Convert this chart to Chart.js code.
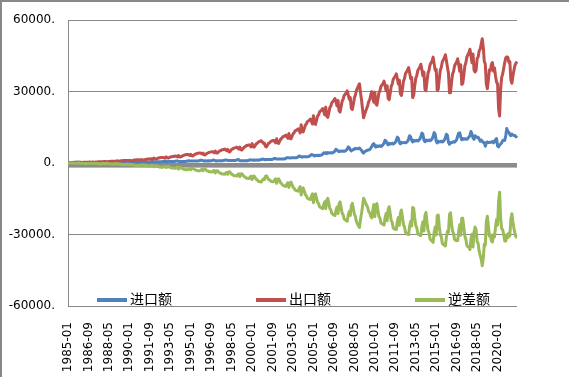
<!DOCTYPE html>
<html>
<head>
<meta charset="utf-8">
<script src="https://cdn.jsdelivr.net/npm/chart.js@4.4.0/dist/chart.umd.min.js"></script>
<style>
  body { margin: 0; background: #fff; }
  #wrap { width: 569px; height: 377px; }
</style>
</head>
<body>
<div id="wrap"><canvas id="tradeChart" width="569" height="377"></canvas></div>
<script>
// monthly values, in thousands, 1985-01 .. 2021-08
var importK = [
  0.3,0.3,0.3,0.3,0.3,0.3,0.3,0.3,0.3,0.4,0.4,0.4,
  0.2,0.2,0.2,0.2,0.2,0.2,0.2,0.2,0.3,0.3,0.3,0.3,
  0.3,0.3,0.3,0.3,0.3,0.3,0.3,0.3,0.3,0.3,0.4,0.3,
  0.4,0.4,0.4,0.4,0.4,0.4,0.4,0.4,0.4,0.5,0.5,0.5,
  0.5,0.4,0.5,0.4,0.4,0.5,0.4,0.5,0.5,0.5,0.6,0.6,
  0.4,0.4,0.4,0.4,0.4,0.4,0.4,0.4,0.4,0.4,0.5,0.5,
  0.5,0.5,0.5,0.5,0.5,0.5,0.5,0.5,0.5,0.6,0.7,0.6,
  0.6,0.5,0.6,0.6,0.6,0.6,0.6,0.6,0.6,0.7,0.8,0.7,
  0.7,0.6,0.7,0.7,0.7,0.7,0.7,0.7,0.7,0.8,0.9,0.9,
  0.7,0.7,0.7,0.7,0.7,0.7,0.7,0.7,0.8,0.9,1.0,0.9,
  0.9,0.9,0.9,0.9,0.9,0.9,0.9,0.9,1.0,1.1,1.2,1.2,
  1.0,0.9,1.0,0.9,0.9,1.0,0.9,1.0,1.0,1.1,1.3,1.2,
  1.0,0.9,1.0,1.0,1.0,1.0,1.0,1.0,1.1,1.2,1.3,1.3,
  1.1,1.1,1.1,1.1,1.1,1.1,1.1,1.1,1.2,1.3,1.5,1.4,
  1.0,1.0,1.0,1.0,1.0,1.0,1.0,1.0,1.1,1.2,1.4,1.3,
  1.3,1.2,1.3,1.2,1.3,1.3,1.2,1.3,1.4,1.5,1.7,1.6,
  1.5,1.4,1.5,1.5,1.5,1.5,1.5,1.5,1.6,1.8,2.0,1.9,
  1.7,1.7,1.7,1.7,1.7,1.7,1.7,1.7,1.8,2.0,2.3,2.2,
  2.2,2.1,2.2,2.2,2.2,2.2,2.2,2.2,2.4,2.6,3.0,2.8,
  2.7,2.5,2.7,2.7,2.7,2.7,2.7,2.7,2.9,3.2,3.6,3.5,
  3.3,3.0,3.3,3.2,3.2,3.3,3.2,3.3,3.4,3.8,4.3,4.1,
  4.4,4.0,4.4,4.2,4.3,4.4,4.2,4.4,4.6,5.1,5.8,5.5,
  5.1,4.8,5.1,5.0,5.0,5.1,5.0,5.1,5.4,5.9,6.8,6.5,
  5.5,5.1,5.6,5.6,5.9,6.2,6.0,6.0,6.2,6.3,5.8,5.4,
  4.5,4.2,4.8,5.0,5.2,5.5,5.5,5.7,6.3,7.0,7.8,8.2,
  7.3,6.7,7.3,7.0,7.1,7.3,7.0,7.3,7.7,8.4,9.6,9.2,
  8.3,7.7,8.3,8.0,8.1,8.3,8.0,8.3,8.7,9.6,10.9,10.4,
  8.7,8.1,8.7,8.5,8.6,8.7,8.5,8.7,9.2,10.1,11.5,11.0,
  9.6,8.9,9.6,9.3,9.4,9.6,9.3,9.6,10.1,11.1,12.6,12.1,
  9.7,9.0,9.7,9.4,9.5,9.7,9.4,9.7,10.2,11.2,12.8,12.2,
  9.2,8.5,9.2,8.9,9.0,9.2,8.9,9.2,9.7,10.7,12.1,11.6,
  8.7,7.9,8.6,8.5,8.8,9.0,8.8,9.3,9.9,11.3,12.6,12.7,
  11.0,9.8,10.3,10.0,10.2,10.1,10.0,10.4,11.0,11.5,13.3,12.2,
  10.6,10.0,11.5,11.0,10.8,10.9,10.1,9.2,9.7,9.1,8.7,8.7,
  7.1,8.4,8.9,8.6,8.6,8.8,8.8,9.1,8.5,9.0,9.8,10.3,
  7.2,6.8,7.6,8.0,8.5,9.4,9.7,9.5,11.5,14.5,13.2,13.0,
  12.0,11.5,12.2,11.8,11.6,11.6,11.0,11.5
];
var exportK = [
  0.3,0.3,0.3,0.3,0.3,0.3,0.4,0.4,0.4,0.4,0.4,0.3,
  0.4,0.3,0.3,0.4,0.4,0.4,0.4,0.4,0.4,0.5,0.4,0.4,
  0.5,0.4,0.4,0.5,0.5,0.5,0.6,0.6,0.6,0.6,0.6,0.5,
  0.7,0.6,0.6,0.6,0.7,0.7,0.8,0.8,0.8,0.8,0.8,0.7,
  1.0,0.8,0.8,0.9,1.0,1.0,1.1,1.1,1.1,1.1,1.1,1.0,
  1.2,1.0,1.0,1.1,1.2,1.3,1.3,1.4,1.4,1.4,1.4,1.3,
  1.5,1.3,1.3,1.4,1.5,1.6,1.7,1.7,1.7,1.8,1.7,1.6,
  2.1,1.8,1.7,1.9,2.1,2.1,2.3,2.3,2.4,2.4,2.3,2.1,
  2.6,2.2,2.1,2.3,2.6,2.6,2.8,2.8,2.9,3.0,2.8,2.6,
  3.2,2.6,2.6,2.8,3.1,3.2,3.4,3.5,3.6,3.6,3.5,3.2,
  3.7,3.1,3.0,3.3,3.7,3.8,4.0,4.1,4.2,4.3,4.1,3.8,
  4.2,3.5,3.4,3.8,4.2,4.3,4.5,4.6,4.7,4.8,4.6,4.3,
  5.1,4.3,4.2,4.6,5.1,5.2,5.5,5.6,5.7,5.9,5.6,5.2,
  5.8,4.9,4.7,5.2,5.8,5.9,6.3,6.4,6.5,6.7,6.3,5.9,
  6.7,5.6,5.5,6.0,6.6,6.8,7.2,7.4,7.5,7.7,7.3,6.8,
  8.2,6.8,6.7,7.3,8.1,8.3,8.8,9.0,9.2,9.4,8.9,8.3,
  8.4,7.0,6.8,7.5,8.3,8.5,9.0,9.2,9.4,9.6,9.1,8.5,
  10.2,8.5,8.3,9.2,10.1,10.4,11.0,11.2,11.4,11.8,11.1,10.4,
  12.4,10.4,10.2,11.2,12.3,12.7,13.5,13.7,14.0,14.4,13.6,12.7,
  16.1,13.4,13.1,14.4,15.9,16.4,17.4,17.7,18.0,18.5,17.5,16.4,
  19.9,16.6,16.2,17.9,19.7,20.3,21.5,21.9,22.3,22.9,21.7,20.3,
  23.5,19.7,19.2,21.1,23.3,24.0,25.4,25.9,26.4,27.1,25.7,24.0,
  26.3,22.0,21.4,23.6,26.0,26.8,28.4,28.9,29.5,30.3,28.7,26.8,
  27.5,23.0,22.5,24.7,27.3,28.6,30.5,31.5,32.5,33.3,29.5,26.5,
  22.5,19.0,20.5,21.8,22.9,24.1,25.9,26.6,28.6,30.0,27.6,25.6,
  29.8,24.9,24.3,26.8,29.5,30.4,32.2,32.8,33.4,34.4,32.5,30.4,
  32.5,27.2,26.6,29.2,32.2,33.2,35.2,35.9,36.5,37.5,35.5,33.2,
  34.8,29.1,28.4,31.2,34.4,35.5,37.6,38.3,39.1,40.1,38.0,35.5,
  36.0,27.5,28.5,32.3,35.6,36.7,38.9,39.6,40.4,41.5,39.3,36.7,
  38.2,31.0,30.4,34.3,37.8,39.0,41.3,42.1,42.9,44.5,41.7,39.0,
  39.4,30.5,31.0,35.4,39.0,40.2,42.6,43.4,44.2,45.5,43.0,40.2,
  37.8,29.5,29.5,34.0,37.4,38.6,40.9,41.7,42.5,43.8,41.3,38.6,
  41.3,33.0,33.5,37.0,40.8,42.1,44.6,45.5,46.3,47.8,45.0,42.1,
  45.8,39.0,38.3,38.9,43.8,44.6,47.1,47.9,50.0,52.2,48.8,42.8,
  41.6,33.2,31.2,34.9,39.2,38.9,41.5,42.2,38.6,40.0,36.6,34.0,
  33.3,22.8,19.8,31.1,36.0,37.4,39.8,42.2,44.2,44.6,44.5,42.4,
  42.6,35.0,33.5,36.5,39.0,41.0,42.0,42.6
];
var balanceK = [
  0,0,0,0,0,0,-0.1,-0.1,-0.1,0,0,0.1,
  -0.2,-0.1,-0.1,-0.2,-0.2,-0.2,-0.2,-0.2,-0.1,-0.2,-0.1,-0.1,
  -0.2,-0.1,-0.1,-0.2,-0.2,-0.2,-0.3,-0.3,-0.3,-0.3,-0.2,-0.2,
  -0.3,-0.2,-0.2,-0.2,-0.3,-0.3,-0.4,-0.4,-0.4,-0.3,-0.3,-0.2,
  -0.5,-0.4,-0.3,-0.5,-0.6,-0.5,-0.7,-0.6,-0.6,-0.6,-0.5,-0.4,
  -0.8,-0.6,-0.6,-0.7,-0.8,-0.9,-0.9,-1.0,-1.0,-1.0,-0.9,-0.8,
  -1.0,-0.8,-0.8,-0.9,-1.0,-1.1,-1.2,-1.2,-1.2,-1.2,-1.0,-1.0,
  -1.5,-1.3,-1.1,-1.3,-1.5,-1.5,-1.7,-1.7,-1.8,-1.7,-1.5,-1.4,
  -1.9,-1.6,-1.4,-1.6,-1.9,-1.9,-2.1,-2.1,-2.2,-2.2,-1.9,-1.7,
  -2.5,-1.9,-1.9,-2.1,-2.4,-2.5,-2.7,-2.8,-2.8,-2.7,-2.5,-2.3,
  -2.8,-2.2,-2.1,-2.4,-2.8,-2.9,-3.1,-3.2,-3.2,-3.2,-2.9,-2.6,
  -3.2,-2.6,-2.4,-2.9,-3.3,-3.3,-3.6,-3.6,-3.7,-3.7,-3.3,-3.1,
  -4.1,-3.4,-3.2,-3.6,-4.1,-4.2,-4.5,-4.6,-4.6,-4.7,-4.3,-3.9,
  -4.7,-3.8,-3.6,-4.1,-4.7,-4.8,-5.2,-5.3,-5.3,-5.4,-4.8,-4.5,
  -5.7,-4.6,-4.5,-5.0,-5.6,-5.8,-6.2,-6.4,-6.4,-6.5,-5.9,-5.5,
  -6.9,-5.6,-5.4,-6.1,-6.8,-7.0,-7.6,-7.7,-7.8,-7.9,-7.2,-6.7,
  -6.9,-5.6,-5.3,-6.0,-6.8,-7.0,-7.5,-7.7,-7.8,-7.8,-7.1,-6.6,
  -8.5,-6.8,-6.6,-7.5,-8.4,-8.7,-9.3,-9.5,-9.6,-9.8,-8.8,-8.2,
  -10.2,-8.3,-8.0,-9.0,-10.1,-10.5,-11.3,-11.5,-11.6,-11.8,-10.6,-9.9,
  -13.4,-10.9,-10.4,-11.7,-13.2,-13.7,-14.7,-15.0,-15.1,-15.3,-13.9,-12.9,
  -16.6,-13.6,-12.9,-14.7,-16.5,-17.0,-18.3,-18.6,-18.9,-19.1,-17.4,-16.2,
  -19.1,-15.7,-14.8,-16.9,-19.0,-19.6,-21.2,-21.5,-21.8,-22.0,-19.9,-18.5,
  -21.2,-17.2,-16.3,-18.6,-21.0,-21.7,-23.4,-23.8,-24.1,-24.4,-21.9,-20.3,
  -22.0,-17.9,-16.9,-19.1,-21.4,-22.4,-24.5,-25.5,-26.3,-27.0,-23.7,-21.1,
  -18.0,-14.8,-15.7,-16.8,-17.7,-18.6,-20.4,-20.9,-22.3,-23.0,-19.8,-17.4,
  -22.5,-18.2,-17.0,-19.8,-22.4,-23.1,-25.2,-25.5,-25.7,-26.0,-22.9,-21.2,
  -24.2,-19.5,-18.3,-21.2,-24.1,-24.9,-27.2,-27.6,-27.8,-27.9,-24.6,-22.8,
  -26.1,-21.0,-19.7,-22.7,-25.8,-26.8,-29.1,-29.6,-29.9,-30.0,-26.5,-24.5,
  -26.4,-18.6,-18.9,-23.0,-26.2,-27.1,-29.6,-30.0,-30.3,-30.4,-26.7,-24.6,
  -28.5,-22.0,-20.7,-24.9,-28.3,-29.3,-31.9,-32.4,-32.7,-33.3,-28.9,-26.8,
  -30.2,-22.0,-21.8,-26.5,-30.0,-31.0,-33.7,-34.2,-34.5,-34.8,-30.9,-28.6,
  -29.1,-21.6,-20.9,-25.5,-28.6,-29.6,-32.1,-32.4,-32.6,-32.5,-28.7,-25.9,
  -30.3,-23.2,-23.2,-27.0,-30.6,-32.0,-34.6,-35.1,-35.3,-36.3,-31.7,-29.9,
  -35.2,-29.0,-26.8,-27.9,-33.0,-33.7,-37.0,-38.7,-40.3,-43.1,-40.1,-34.1,
  -34.5,-24.8,-22.3,-26.3,-30.6,-30.1,-32.7,-33.1,-30.1,-31.0,-26.8,-23.7,
  -26.1,-16.0,-12.2,-23.1,-27.5,-28.0,-30.1,-32.7,-32.7,-30.1,-31.3,-29.4,
  -30.6,-23.5,-21.3,-24.7,-27.4,-29.4,-31.0,-31.1
];
var seriesNames = ['进口额', '出口额', '逆差额'];
var yTicks = [-60000, -30000, 0, 30000, 60000];

var labels = [];
for (let i = 0; i < importK.length; i++) {
    let y = 1985 + Math.floor(i / 12);
    let m = i % 12 + 1;
    labels.push(y + '-' + (m < 10 ? '0' : '') + m);
}

function toUnits(arr) {
    return arr.map(v => v * 1000);
}

// outer frame (top + left edge of the picture)
const frame = {
    id: 'frame',
    beforeDraw(chart) {
        const ctx = chart.ctx;
        ctx.save();
        ctx.fillStyle = '#fff';
        ctx.fillRect(0, 0, chart.width, chart.height);
        ctx.fillStyle = '#888';
        ctx.fillRect(0, 0, chart.width, 2);
        ctx.fillRect(0, 0, 2, chart.height);
        ctx.restore();
    }
};

// thick grey band of dense category ticks at y = 0
const zeroBand = {
    id: 'zeroBand',
    beforeDatasetsDraw(chart) {
        const { ctx, chartArea, scales } = chart;
        const y0 = scales.y.getPixelForValue(0);
        ctx.save();
        ctx.fillStyle = '#8c8c8c';
        ctx.fillRect(chartArea.left, y0, chartArea.right - chartArea.left, 4.5);
        ctx.restore();
    }
};

// legend drawn inside the plot, along the bottom
const innerLegend = {
    id: 'innerLegend',
    afterDraw(chart) {
        const { ctx, chartArea } = chart;
        const y = chartArea.bottom - 7;
        ctx.save();
        ctx.font = '14px "Noto Sans CJK SC", sans-serif';
        ctx.textBaseline = 'middle';
        chart.data.datasets.forEach((ds, i) => {
            const x = chartArea.left + 29 + i * 159;
            ctx.strokeStyle = ds.borderColor;
            ctx.lineWidth = 4;
            ctx.beginPath();
            ctx.moveTo(x, y + 1);
            ctx.lineTo(x + 30, y + 1);
            ctx.stroke();
            ctx.fillStyle = '#000';
            ctx.fillText(ds.label, x + 33, y);
        });
        ctx.restore();
    }
};

var ctx = document.getElementById('tradeChart').getContext('2d');

var tradeChart = new Chart(ctx, {
    type: 'line',
    data: {
        labels: labels,
        datasets: [{
            label: seriesNames[0],
            data: toUnits(importK),
            borderColor: '#4f81bd',
            borderWidth: 3,
            order: 3
        }, {
            label: seriesNames[1],
            data: toUnits(exportK),
            borderColor: '#c0504d',
            borderWidth: 3,
            order: 2
        }, {
            label: seriesNames[2],
            data: toUnits(balanceK),
            borderColor: '#9bbb59',
            borderWidth: 3,
            order: 1
        }]
    },
    options: {
        responsive: false,
        animation: false,
        events: [],
        elements: {
            point: { radius: 0 },
            line: { tension: 0, borderJoinStyle: 'round' }
        },
        layout: {
            padding: { top: 18, right: 52, bottom: 0, left: 0 }
        },
        scales: {
            x: {
                grid: { display: false },
                border: { display: false },
                ticks: {
                    autoSkip: false,
                    minRotation: 90,
                    maxRotation: 90,
                    padding: 8,
                    color: '#000',
                    font: { family: 'DejaVu Sans', size: 12 },
                    callback: function (value, index) {
                        return index % 20 === 0 ? this.getLabelForValue(value) : null;
                    }
                },
                afterFit: s => { s.height = 71; }
            },
            y: {
                min: -60000,
                max: 60000,
                afterBuildTicks: s => { s.ticks = yTicks.map(v => ({ value: v })); },
                grid: { color: '#888', lineWidth: 1, drawTicks: false },
                border: { display: true, color: '#888', width: 1 },
                ticks: {
                    padding: 13,
                    color: '#000',
                    font: { family: 'DejaVu Sans', size: 12 },
                    callback: v => v + '.'
                },
                afterFit: s => { s.width = 68; }
            }
        },
        plugins: {
            legend: { display: false },
            tooltip: { enabled: false }
        }
    },
    plugins: [frame, zeroBand, innerLegend]
});
</script>
</body>
</html>
